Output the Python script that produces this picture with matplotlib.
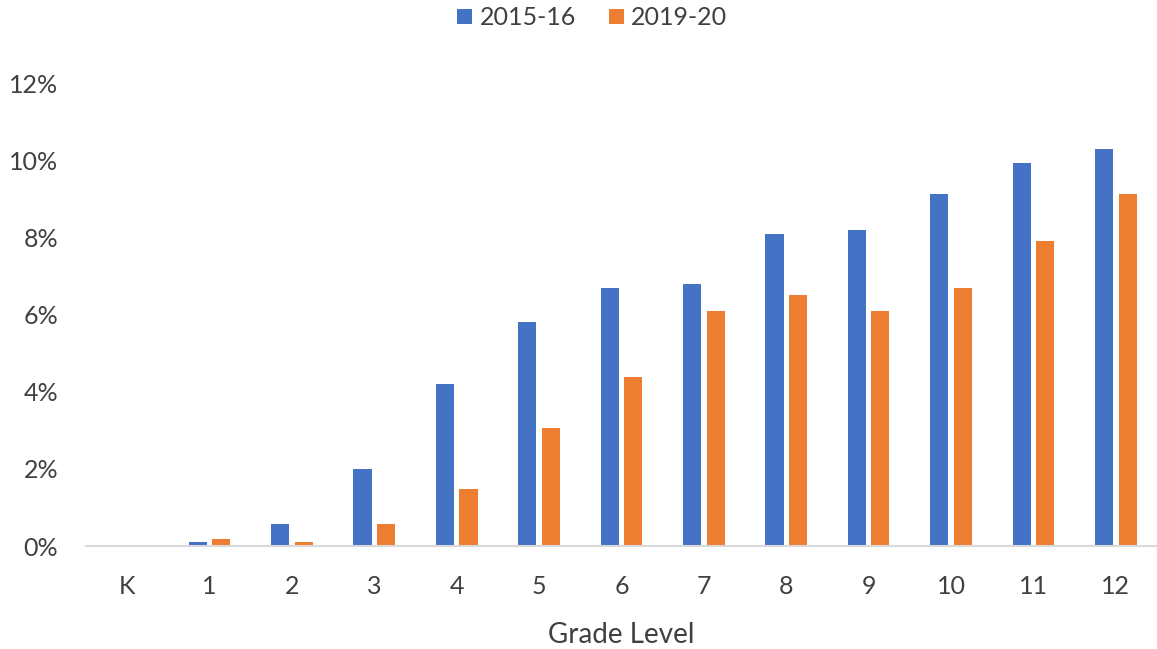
import matplotlib
matplotlib.use("Agg")
import matplotlib.pyplot as plt
import numpy as np
from matplotlib.ticker import FuncFormatter

grades = ["K", "1", "2", "3", "4", "5", "6", "7", "8", "9", "10", "11", "12"]
series_2015 = [0.0, 0.1, 0.57, 2.0, 4.2, 5.82, 6.7, 6.8, 8.1, 8.2, 9.13, 9.94, 10.3]
series_2019 = [0.0, 0.19, 0.11, 0.57, 1.48, 3.06, 4.39, 6.1, 6.52, 6.1, 6.69, 7.92, 9.13]
yticks = [0, 2, 4, 6, 8, 10, 12]

plt.rcParams["font.family"] = ["Lato", "DejaVu Sans"]

fig = plt.figure(figsize=(11.57, 6.49), dpi=100)
ax = fig.add_axes([0.0743, 0.1587, 0.9257, 0.7119])

x = np.arange(len(grades))
w = 0.22
off = 0.143
ax.bar(x - off, series_2015, width=w, color="#4472C4", label="2015-16")
ax.bar(x + off, series_2019, width=w, color="#ED7D31", label="2019-20")

ax.set_xlim(-0.5, len(grades) - 0.5)
ax.set_ylim(0, 12)
ax.set_yticks(yticks)
ax.yaxis.set_major_formatter(FuncFormatter(lambda v, p: f"{v:.0f}%"))
ax.set_xticks(x)
ax.set_xticklabels(grades)

for s in ["top", "right", "left"]:
    ax.spines[s].set_visible(False)
ax.spines["bottom"].set_color("#D9D9D9")
ax.spines["bottom"].set_linewidth(1.5)
ax.tick_params(axis="both", length=0, labelsize=18, colors="#404040")
ax.tick_params(axis="y", pad=20)
ax.tick_params(axis="x", pad=21)

ax.set_xlabel("Grade Level", fontsize=20, color="#404040", labelpad=17)

fig.legend(loc="upper center", bbox_to_anchor=(0.512, 1.025), ncol=2, frameon=False,
           fontsize=18, handlelength=0.6, handleheight=0.6, handletextpad=0.3,
           columnspacing=1.3, labelcolor="#404040")

fig.savefig("out.png", dpi=100, facecolor="white")
